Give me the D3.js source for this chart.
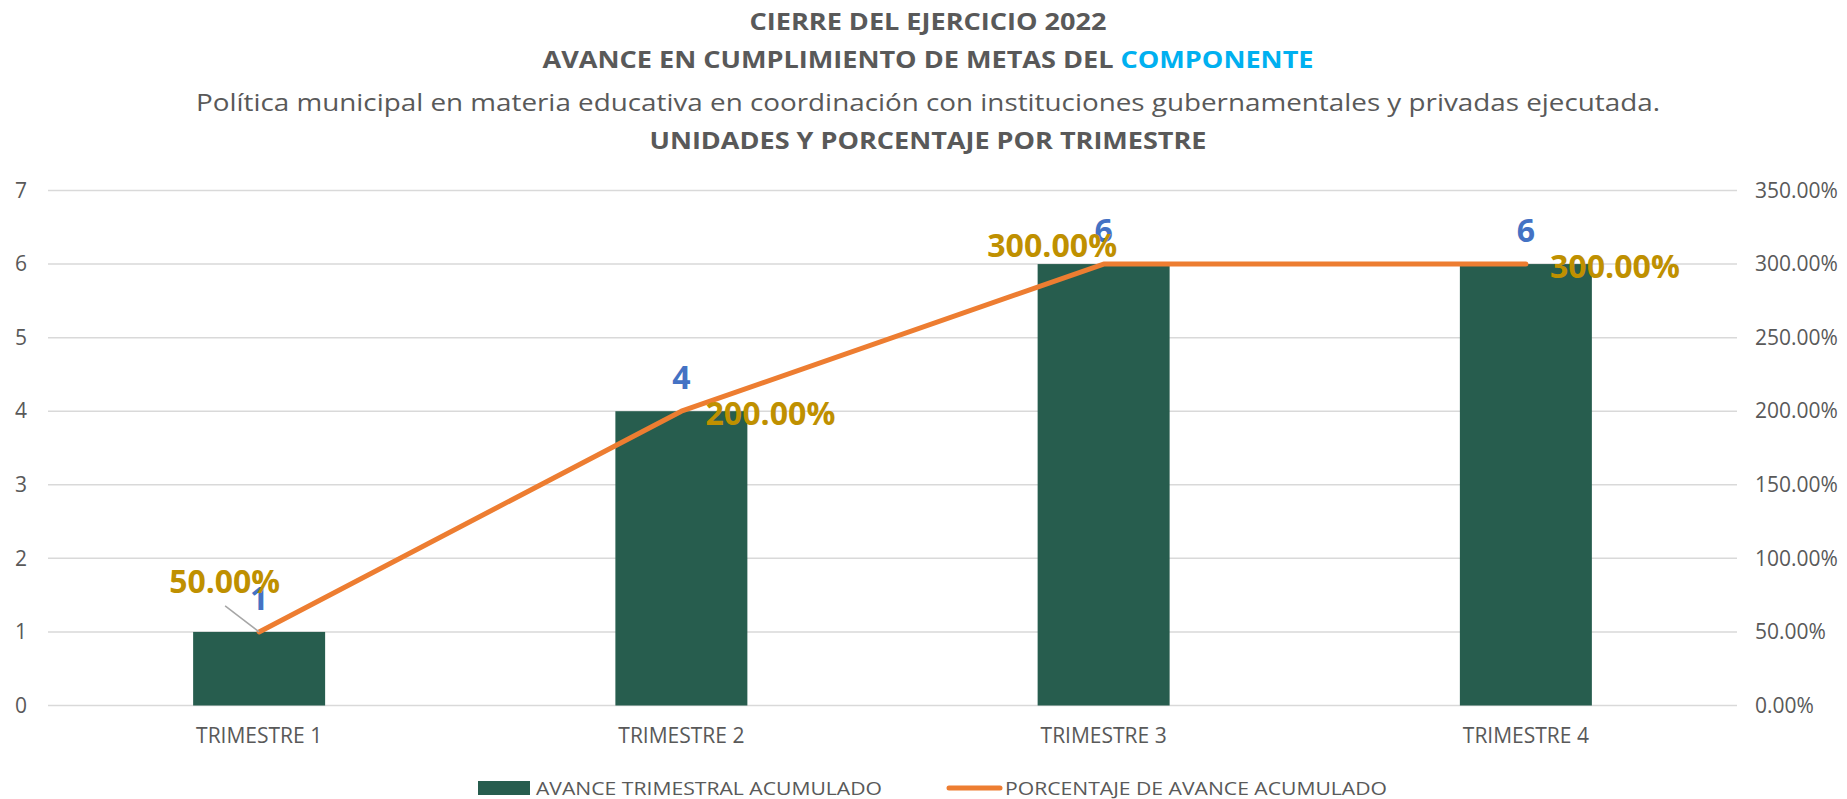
<!DOCTYPE html>
<html>
<head>
<meta charset="utf-8">
<script src="https://cdn.jsdelivr.net/npm/d3@7"></script>
<style>
  html, body { margin: 0; padding: 0; background: #ffffff; }
  svg { display: block; font-family: "Open Sans", "Noto Sans", sans-serif; }
</style>
</head>
<body>
<svg id="chart" width="1847" height="799"></svg>
<script>
// ---- data ----
const categories = ["TRIMESTRE 1", "TRIMESTRE 2", "TRIMESTRE 3", "TRIMESTRE 4"];
const unidades = [1, 4, 6, 6];
const porcentaje = [50, 200, 300, 300];
const leftTicks = [0, 1, 2, 3, 4, 5, 6, 7];
const rightTicks = [0, 50, 100, 150, 200, 250, 300, 350];
const titleLine1 = "CIERRE DEL EJERCICIO 2022";
const titleLine2a = "AVANCE EN CUMPLIMIENTO DE METAS DEL ";
const titleLine2b = "COMPONENTE";
const titleLine3 = "Política municipal en materia educativa en coordinación con instituciones gubernamentales y privadas ejecutada.";
const titleLine4 = "UNIDADES Y PORCENTAJE POR TRIMESTRE";
const seriesNames = ["AVANCE TRIMESTRAL ACUMULADO", "PORCENTAJE DE AVANCE ACUMULADO"];
// label placement style for percentage labels (Excel manual positions)
const pctLabelPlacement = ["leader", "right", "aboveLeft", "right"];

// ---- layout ----
const W = 1847, H = 799;
const plot = { left: 48, right: 1737, top: 190.5, bottom: 705.5 };
const gray = "#595959";
const barColor = "#275D4E";
const lineColor = "#ED7D31";
const blue = "#4472C4";
const gold = "#BF9000";

const svg = d3.select("#chart");

function fit(sel, w) {
  sel.attr("textLength", w).attr("lengthAdjust", "spacingAndGlyphs");
}

// ---- scales ----
const x = d3.scaleBand().domain(categories).range([plot.left, plot.right])
  .paddingInner(0.6874).paddingOuter(0.3437);
const y = d3.scaleLinear().domain([0, 7]).range([plot.bottom, plot.top]);
const y2 = d3.scaleLinear().domain([0, 350]).range([plot.bottom, plot.top]);
const cx = c => x(c) + x.bandwidth() / 2;

// ---- title ----
const tcx = 928;
svg.append("text").attr("x", tcx).attr("y", 30).attr("text-anchor", "middle")
  .attr("font-size", 24).attr("font-weight", 700).attr("fill", gray)
  .text(titleLine1).call(fit, 357);
const t2 = svg.append("text").attr("x", tcx).attr("y", 68).attr("text-anchor", "middle")
  .attr("font-size", 24).attr("font-weight", 700).attr("fill", gray);
t2.append("tspan").text(titleLine2a);
t2.append("tspan").attr("fill", "#00B0F0").text(titleLine2b);
t2.call(fit, 771);
svg.append("text").attr("x", tcx).attr("y", 111).attr("text-anchor", "middle")
  .attr("font-size", 23.5).attr("fill", gray)
  .text(titleLine3).call(fit, 1464);
svg.append("text").attr("x", tcx).attr("y", 149).attr("text-anchor", "middle")
  .attr("font-size", 24).attr("font-weight", 700).attr("fill", gray)
  .text(titleLine4).call(fit, 557);

// ---- gridlines ----
svg.append("g").selectAll("line").data(leftTicks).join("line")
  .attr("x1", plot.left).attr("x2", plot.right)
  .attr("y1", d => y(d)).attr("y2", d => y(d))
  .attr("stroke", "#D9D9D9").attr("stroke-width", 1.5);

// ---- left axis ----
const yAxis = d3.axisLeft(y).tickValues(leftTicks).tickSize(0).tickPadding(0).tickFormat(d3.format("d"));
const gl = svg.append("g").attr("transform", "translate(27,0)").call(yAxis);
gl.select(".domain").remove();
gl.selectAll("text").attr("font-size", 21).attr("fill", gray).attr("font-family", "Open Sans");

// ---- right axis ----
const y2Axis = d3.axisRight(y2).tickValues(rightTicks).tickSize(0).tickPadding(0)
  .tickFormat(d => d3.format(".2f")(d) + "%");
const gr = svg.append("g").attr("transform", "translate(1755,0)").call(y2Axis);
gr.select(".domain").remove();
gr.selectAll("text").attr("font-size", 21).attr("fill", gray).attr("font-family", "Open Sans");

// ---- category axis ----
const xAxis = d3.axisBottom(x).tickSize(0).tickPadding(0);
const gx = svg.append("g").attr("transform", "translate(0,728)").call(xAxis);
gx.select(".domain").remove();
gx.selectAll("text").attr("font-size", 21).attr("fill", gray).attr("font-family", "Open Sans")
  .attr("dy", "0.71em");

// ---- bars ----
svg.append("g").selectAll("rect").data(categories).join("rect")
  .attr("x", d => x(d)).attr("width", x.bandwidth())
  .attr("y", (d, i) => y(unidades[i])).attr("height", (d, i) => y(0) - y(unidades[i]))
  .attr("fill", barColor);

// ---- line ----
const lineGen = d3.line().x((d, i) => cx(categories[i])).y(d => y2(d));
svg.append("path").datum(porcentaje).attr("d", lineGen)
  .attr("fill", "none").attr("stroke", lineColor).attr("stroke-width", 5)
  .attr("stroke-linecap", "round").attr("stroke-linejoin", "round");

// ---- bar value labels ----
svg.append("g").selectAll("text").data(unidades).join("text")
  .attr("x", (d, i) => cx(categories[i])).attr("y", d => y(d) - 22)
  .attr("text-anchor", "middle").attr("font-size", 32).attr("font-weight", 700)
  .attr("fill", blue).text(d => d3.format("d")(d));

// ---- percentage labels ----
const pctFmt = d => d3.format(".2f")(d) + "%";
const placement = {
  leader:    { dx: -34.5, dy: -39, anchor: "middle" },
  right:     { dx: 24,    dy: 14,  anchor: "start" },
  aboveLeft: { dx: -51.5, dy: -7,  anchor: "middle" }
};
porcentaje.forEach((v, i) => {
  const px = cx(categories[i]), py = y2(v);
  const p = placement[pctLabelPlacement[i]];
  if (pctLabelPlacement[i] === "leader") {
    svg.append("line").attr("x1", px - 34).attr("y1", py - 26).attr("x2", px).attr("y2", py)
      .attr("stroke", "#A6A6A6").attr("stroke-width", 1.5);
  }
  svg.append("text").attr("x", px + p.dx).attr("y", py + p.dy)
    .attr("text-anchor", p.anchor).attr("font-size", 32).attr("font-weight", 700)
    .attr("fill", gold).text(pctFmt(v)).call(fit, i === 0 ? 111 : 130);
});

// ---- legend ----
const lg = svg.append("g");
lg.append("rect").attr("x", 478).attr("y", 781).attr("width", 52).attr("height", 14).attr("fill", barColor);
lg.append("text").attr("x", 536).attr("y", 794.5).attr("font-size", 19).attr("fill", gray)
  .text(seriesNames[0]).call(fit, 346);
lg.append("line").attr("x1", 949).attr("x2", 1000).attr("y1", 788).attr("y2", 788)
  .attr("stroke", lineColor).attr("stroke-width", 5).attr("stroke-linecap", "round");
lg.append("text").attr("x", 1005).attr("y", 794.5).attr("font-size", 19).attr("fill", gray)
  .text(seriesNames[1]).call(fit, 382);
</script>
</body>
</html>
